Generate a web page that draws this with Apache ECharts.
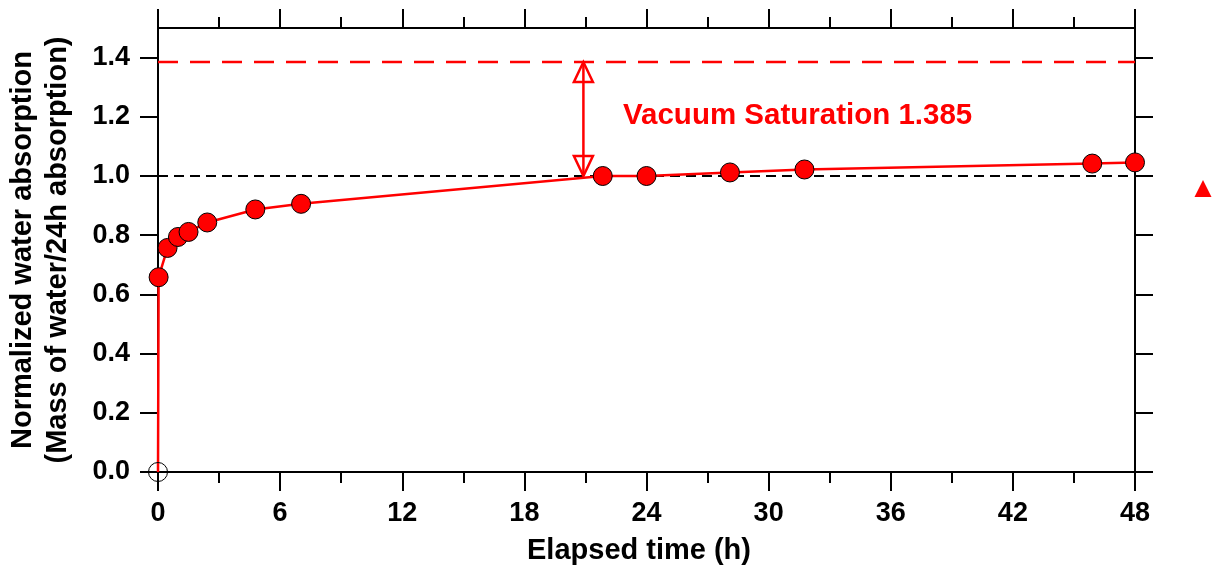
<!DOCTYPE html>
<html>
<head>
<meta charset="utf-8">
<script src="https://cdn.jsdelivr.net/npm/echarts@6.0.0/dist/echarts.min.js"></script>
<style>
  html, body { margin: 0; padding: 0; background: #fff; }
  #chart { width: 1215px; height: 567px; }
</style>
</head>
<body>
<div id="chart"></div>
<script>
// Elapsed time (h) and normalized water absorption (mass of water / 24h absorption)
const timeH = [0, 0.03, 0.47, 0.98, 1.5, 2.42, 4.78, 7.03, 21.85, 24, 28.1, 31.76, 45.9, 48];
const ratio = [0, 0.658, 0.757, 0.794, 0.811, 0.843, 0.887, 0.906, 1.0, 1.0, 1.012, 1.022, 1.042, 1.046];

// Reference levels
const vacuumSaturation = 1.385;
const referenceLevel = 1.0;
const arrowTime = 20.9;

// Axis ticks
const xTicks = [0, 6, 12, 18, 24, 30, 36, 42, 48];
const yTicks = [0, 0.2, 0.4, 0.6, 0.8, 1.0, 1.2, 1.4];

const FONT = "'Liberation Sans', Arial, Helvetica, sans-serif";
const RED = '#ff0000';
const BLACK = '#000000';

const chart = echarts.init(document.getElementById('chart'), null, { renderer: 'canvas' });

const axisLineStyle = { color: BLACK, width: 2 };

function xAxisDef(position, showLabels) {
  return {
    type: 'value',
    position: position,
    min: xTicks[0],
    max: xTicks[xTicks.length - 1],
    interval: 6,
    axisLine: { show: true, onZero: false, lineStyle: axisLineStyle },
    axisTick: { show: true, inside: false, length: 19, lineStyle: { color: BLACK, width: 2 } },
    minorTick: { show: true, splitNumber: 2, length: 11, lineStyle: { color: BLACK, width: 2 } },
    splitLine: { show: false },
    minorSplitLine: { show: false },
    axisLabel: {
      show: showLabels,
      margin: 28,
      color: BLACK,
      fontFamily: FONT,
      fontWeight: 'bold',
      fontSize: 27
    },
    name: showLabels ? 'Elapsed time (h)' : '',
    nameLocation: 'middle',
    nameGap: 64,
    nameTextStyle: {
      color: BLACK,
      fontFamily: FONT,
      fontWeight: 'bold',
      fontSize: 29,
      padding: [0, 15, 0, 0]
    }
  };
}

function yAxisDef(position, showLabels) {
  return {
    type: 'value',
    position: position,
    min: 0,
    max: 1.5,
    interval: 0.2,
    axisLine: { show: true, onZero: false, lineStyle: axisLineStyle },
    axisTick: { show: true, inside: false, length: 18, customValues: yTicks, lineStyle: { color: BLACK, width: 2 } },
    splitLine: { show: false },
    axisLabel: {
      show: showLabels,
      customValues: yTicks,
      margin: 28,
      color: BLACK,
      fontFamily: FONT,
      fontWeight: 'bold',
      fontSize: 27,
      formatter: (v) => v.toFixed(1)
    },
    name: showLabels ? 'Normalized water absorption\n(Mass of water/24h absorption)' : '',
    nameLocation: 'middle',
    nameRotate: 90,
    nameGap: 83,
    nameTextStyle: {
      color: BLACK,
      fontFamily: FONT,
      fontWeight: 'bold',
      fontSize: 29,
      lineHeight: 35,
      align: 'center'
    }
  };
}

const seriesData = timeH.map((t, i) => {
  if (i === 0) {
    // starting point drawn as an open circle
    return {
      value: [t, ratio[i]],
      symbolSize: 19,
      itemStyle: { color: 'rgba(0,0,0,0)', borderColor: BLACK, borderWidth: 1 }
    };
  }
  return [t, ratio[i]];
});

const option = {
  animation: false,
  backgroundColor: '#ffffff',
  grid: { left: 158, right: 80, top: 28, bottom: 95, containLabel: false, outerBoundsMode: 'none' },
  xAxis: [xAxisDef('bottom', true), xAxisDef('top', false)],
  yAxis: [yAxisDef('left', true), yAxisDef('right', false)],
  series: [
    {
      name: 'reference',
      type: 'line',
      data: [[xTicks[0], referenceLevel], [xTicks[xTicks.length - 1], referenceLevel]],
      showSymbol: false,
      symbol: 'none',
      lineStyle: { color: BLACK, width: 2, type: [10, 6] },
      z: 1,
      silent: true
    },
    {
      name: 'vacuum',
      type: 'line',
      data: [[xTicks[0], vacuumSaturation], [xTicks[xTicks.length - 1], vacuumSaturation]],
      showSymbol: false,
      symbol: 'none',
      lineStyle: { color: RED, width: 2.5, type: [20, 12] },
      z: 1,
      silent: true
    },
    {
      name: 'arrow',
      type: 'custom',
      coordinateSystem: 'cartesian2d',
      data: [[arrowTime, referenceLevel, vacuumSaturation]],
      clip: false,
      z: 3,
      silent: true,
      renderItem: (params, api) => {
        const x = api.value(0);
        const a = api.coord([x, api.value(1)]);
        const b = api.coord([x, api.value(2)]);
        const hw = 9.5, h = 20;
        const st = { stroke: RED, lineWidth: 2.5, fill: 'none' };
        return {
          type: 'group',
          children: [
            { type: 'line', shape: { x1: a[0], y1: a[1], x2: b[0], y2: b[1] }, style: { stroke: RED, lineWidth: 2.5 } },
            { type: 'polygon', shape: { points: [[b[0], b[1]], [b[0] - hw, b[1] + h], [b[0] + hw, b[1] + h]] }, style: st },
            { type: 'polygon', shape: { points: [[a[0], a[1]], [a[0] - hw, a[1] - h], [a[0] + hw, a[1] - h]] }, style: st }
          ]
        };
      }
    },
    {
      name: 'absorption',
      type: 'line',
      data: seriesData,
      clip: false,
      symbol: 'circle',
      symbolSize: 19,
      showSymbol: true,
      lineStyle: { color: RED, width: 2.5 },
      itemStyle: { color: RED, borderColor: BLACK, borderWidth: 1 },
      z: 5
    }
  ],
  graphic: [
    {
      type: 'text',
      left: 623,
      top: 101,
      style: {
        text: 'Vacuum Saturation ' + vacuumSaturation.toFixed(3),
        fill: RED,
        font: 'bold 29.5px ' + FONT
      }
    },
    {
      type: 'polygon',
      shape: { points: [[1203, 180], [1211.5, 197], [1194.5, 197]] },
      style: { fill: RED }
    }
  ]
};

chart.setOption(option);
</script>
</body>
</html>
